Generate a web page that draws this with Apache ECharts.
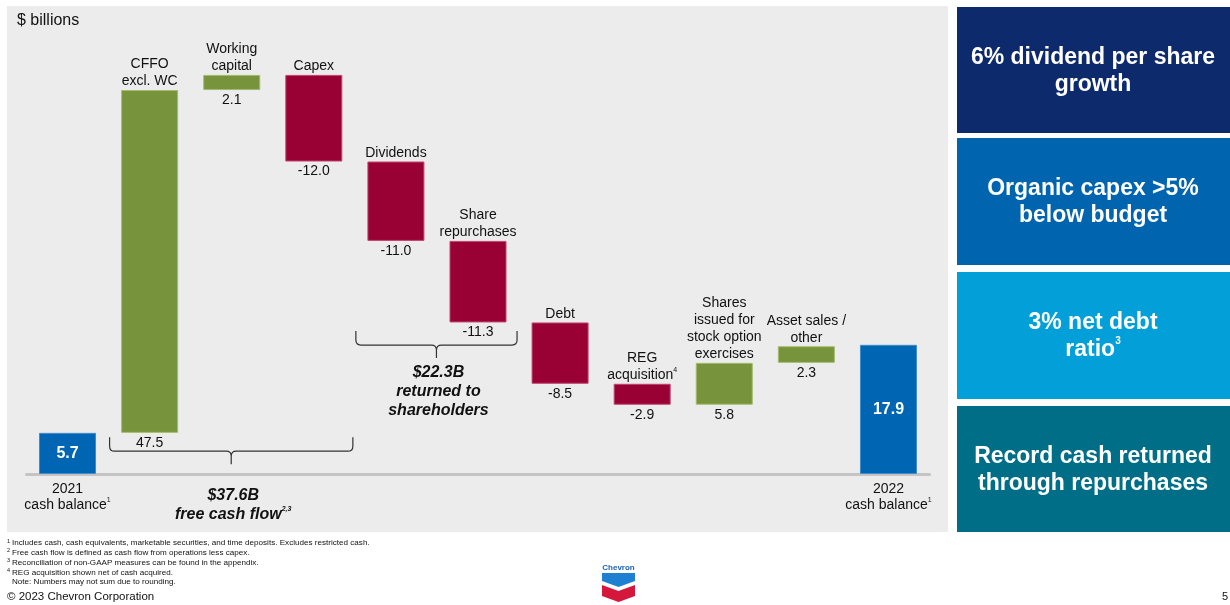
<!DOCTYPE html>
<html><head><meta charset="utf-8">
<script src="https://cdn.jsdelivr.net/npm/echarts@6/dist/echarts.min.js"></script>
<style>html,body{margin:0;padding:0;background:#fff}#c{width:1230px;height:605px}</style>
</head><body><div id="c"></div>
<script>
// ---------- DATA ----------
const categories = ['2021\ncash balance', 'CFFO\nexcl. WC', 'Working\ncapital', 'Capex', 'Dividends',
  'Share\nrepurchases', 'Debt', 'REG\nacquisition', 'Shares\nissued for\nstock option\nexercises',
  'Asset sales /\nother', '2022\ncash balance'];
const categoryMarks = ['1', '', '', '', '', '', '', '4', '', '', '1'];
const values = [5.7, 47.5, 2.1, -12.0, -11.0, -11.3, -8.5, -2.9, 5.8, 2.3, 17.9];
const kinds = ['total', 'delta', 'delta', 'delta', 'delta', 'delta', 'delta', 'delta', 'delta', 'delta', 'total'];
const bracketRanges = [[1, 3], [4, 5]];
const bracketCaptions = ['free cash flow', 'returned to\nshareholders'];
const bracketMarks = ['2,3', ''];
const bracketLevels = [5.1, 19.8];
const highlights = ['6% dividend per share\ngrowth', 'Organic capex >5%\nbelow budget', '3% net debt\nratio', 'Record cash returned\nthrough repurchases'];
const highlightMarks = ['', '', '3', ''];
const footnoteMarks = ['1', '2', '3', '4', ''];
const footnotes = [
  'Includes cash, cash equivalents, marketable securities, and time deposits. Excludes restricted cash.',
  'Free cash flow is defined as cash flow from operations less capex.',
  'Reconciliation of non-GAAP measures can be found in the appendix.',
  'REG acquisition shown net of cash acquired.',
  'Note: Numbers may not sum due to rounding.'];

// ---------- STYLE ----------
const FF = '"Liberation Sans", Arial, sans-serif';
const C_TOTAL = '#0066b3', C_POS = '#77933c', C_NEG = '#990033';
const boxColors = ['#0c2a6c', '#0064af', '#029fd9', '#006e87'];
const boxY = [7, 138, 272, 406], boxH = [126, 127, 127, 126];

// ---------- DERIVED ----------
const bases = [], heights = [];
let run = 0;
values.forEach((v, i) => {
  if (kinds[i] === 'total') { bases.push(0); heights.push(v); run = v; }
  else if (v >= 0) { bases.push(run); heights.push(v); run += v; }
  else { run += v; bases.push(run); heights.push(-v); }
});
function colorOf(i) { return kinds[i] === 'total' ? C_TOTAL : (values[i] >= 0 ? C_POS : C_NEG); }
function borderOf(i) { return kinds[i] === 'total' ? '#3d8ccc' : (values[i] >= 0 ? '#a3bb6a' : '#c0466e'); }
function catRich(i) {
  return categories[i].split('\n').map((l, k, a) => k === a.length - 1 && categoryMarks[i] ? l + '{s|' + categoryMarks[i] + '}' : l).join('\n');
}

const chart = echarts.init(document.getElementById('c'), null, { renderer: 'canvas' });

const graphics = [];
graphics.push({ type: 'rect', shape: { x: 7, y: 6, width: 941, height: 526 }, style: { fill: '#ececec' }, z: -100, silent: true });
graphics.push({ type: 'text', x: 17, y: 21, style: { text: '$ billions', font: '16px ' + FF, fill: '#111', textVerticalAlign: 'middle', verticalAlign: 'middle' } });
highlights.forEach((t, i) => {
  graphics.push({ type: 'rect', shape: { x: 957, y: boxY[i], width: 273, height: boxH[i] }, style: { fill: boxColors[i] }, z: -50 });
  const txt = highlightMarks[i] ? t + '{s|' + highlightMarks[i] + '}' : t;
  graphics.push({ type: 'text', x: 1093, y: boxY[i] + boxH[i] / 2 + 1, style: {
    text: txt, font: 'bold 23px ' + FF, fill: '#fff', lineHeight: 27,
    textAlign: 'center', align: 'center', textVerticalAlign: 'middle', verticalAlign: 'middle',
    rich: { s: { fontSize: 10, fontWeight: 'bold', fontFamily: FF, fill: '#fff', color: '#fff', verticalAlign: 'top', lineHeight: 27 } } } });
});
footnotes.forEach((t, i) => {
  const y = 543 + i * 9.8;
  if (footnoteMarks[i]) graphics.push({ type: 'text', x: 7, y: y - 2, style: { text: footnoteMarks[i], font: '5.5px ' + FF, fill: '#111', textVerticalAlign: 'middle', verticalAlign: 'middle' } });
  graphics.push({ type: 'text', x: 12, y: y, style: { text: t, font: '8.1px ' + FF, fill: '#111', textVerticalAlign: 'middle', verticalAlign: 'middle' } });
});
graphics.push({ type: 'text', x: 7, y: 597, style: { text: '© 2023 Chevron Corporation', font: '11.5px ' + FF, fill: '#111', textVerticalAlign: 'middle', verticalAlign: 'middle' } });
graphics.push({ type: 'text', x: 1228, y: 597, style: { text: '5', font: '11px ' + FF, fill: '#111', textAlign: 'right', align: 'right', textVerticalAlign: 'middle', verticalAlign: 'middle' } });
// Chevron logo
graphics.push({ type: 'text', x: 618.5, y: 568, style: { text: 'Chevron', font: 'bold 8px ' + FF, fill: '#1a5fb4', textAlign: 'center', align: 'center', textVerticalAlign: 'middle', verticalAlign: 'middle' } });
graphics.push({ type: 'polygon', shape: { points: [[602, 573], [635, 573], [635, 581], [618.5, 587], [602, 581]] }, style: { fill: '#1f7fd0' } });
graphics.push({ type: 'polygon', shape: { points: [[602, 585], [618.5, 591], [635, 585], [635, 596], [618.5, 602], [602, 596]] }, style: { fill: '#d4173a' } });

const option = {
  animation: false,
  backgroundColor: '#ffffff',
  textStyle: { fontFamily: FF },
  grid: { left: 26.5, right: 300.5, top: 41, bottom: 131, containLabel: false },
  xAxis: {
    type: 'category', data: categories,
    axisLine: { show: true, lineStyle: { color: '#c4c4c4', width: 3 } },
    axisTick: { show: false },
    axisLabel: {
      interval: 0, margin: 7, fontSize: 14, lineHeight: 16, color: '#111', fontFamily: FF,
      formatter: (val, idx) => kinds[idx] === 'total' ? catRich(idx) : '',
      rich: { s: { fontSize: 7, verticalAlign: 'top', lineHeight: 16, color: '#111' } }
    }
  },
  yAxis: { type: 'value', min: 0, max: 60, show: false, splitLine: { show: false } },
  graphic: { elements: graphics },
  series: [
    {
      type: 'bar', stack: 'w', data: bases, barWidth: 57, silent: true,
      itemStyle: { color: 'transparent' },
      label: {
        show: true, position: 'insideTop', distance: 3, fontSize: 14, color: '#111', fontFamily: FF,
        formatter: p => kinds[p.dataIndex] === 'delta' ? values[p.dataIndex].toFixed(1) : ''
      },
      z: 3
    },
    {
      type: 'bar', stack: 'w', barWidth: 57,
      data: heights.map((h, i) => {
        const d = { value: h, itemStyle: { color: colorOf(i), borderColor: borderOf(i), borderWidth: 1 } };
        if (kinds[i] === 'total') d.label = { position: 'inside', color: '#fff', fontWeight: 'bold', fontSize: 16 };
        return d;
      }),
      label: {
        show: true, position: 'top', distance: 0, fontSize: 14, lineHeight: 17, color: '#111', fontFamily: FF,
        formatter: p => kinds[p.dataIndex] === 'total' ? values[p.dataIndex].toFixed(1) : catRich(p.dataIndex),
        rich: { s: { fontSize: 7, verticalAlign: 'top', lineHeight: 17, color: '#111' } }
      }
    },
    {
      type: 'custom', silent: true, z: 5,
      data: bracketRanges.map((r, i) => [r[0], r[1], bracketLevels[i], i]),
      renderItem: (params, api) => {
        const a = api.value(0), b = api.value(1), lvl = api.value(2), k = api.value(3);
        const bw = api.size([1, 0])[0];
        const p0 = api.coord([a, lvl]), p1 = api.coord([b, lvl]);
        const x0 = p0[0] - bw / 2 + 1, x1 = p1[0] + bw / 2 - 2;
        const y0 = p0[1], y1 = y0 + 14, y2 = y1 + 13, r = 5;
        const xm = (x0 + x1) / 2;
        const d = `M${x0} ${y0} L${x0} ${y1 - r} Q${x0} ${y1} ${x0 + r} ${y1} L${xm - r} ${y1} Q${xm} ${y1} ${xm} ${y1 + r} L${xm} ${y2} ` +
          `M${xm} ${y1 + r} Q${xm} ${y1} ${xm + r} ${y1} L${x1 - r} ${y1} Q${x1} ${y1} ${x1} ${y1 - r} L${x1} ${y0}`;
        let sum = 0;
        for (let j = a; j <= b; j++) sum += values[j];
        const head = '$' + Math.abs(sum).toFixed(1) + 'B';
        const cap = bracketMarks[k] ? bracketCaptions[k] + '{s|' + bracketMarks[k] + '}' : bracketCaptions[k];
        const gap = k === 0 ? 22 : 5;
        return {
          type: 'group', children: [
            { type: 'path', shape: { pathData: d }, style: { stroke: '#333', fill: null, lineWidth: 1.2 } },
            { type: 'text', x: xm + 2, y: y2 + gap, style: {
              text: head + '\n' + cap, font: 'italic bold 16px ' + FF, fill: '#111', lineHeight: 19,
              textAlign: 'center', align: 'center', textVerticalAlign: 'top', verticalAlign: 'top',
              rich: { s: { fontSize: 7, fontWeight: 'bold', fontStyle: 'italic', fontFamily: FF, fill: '#111', verticalAlign: 'top', lineHeight: 19 } } } }
          ]
        };
      }
    }
  ]
};
chart.setOption(option);
</script></body></html>
